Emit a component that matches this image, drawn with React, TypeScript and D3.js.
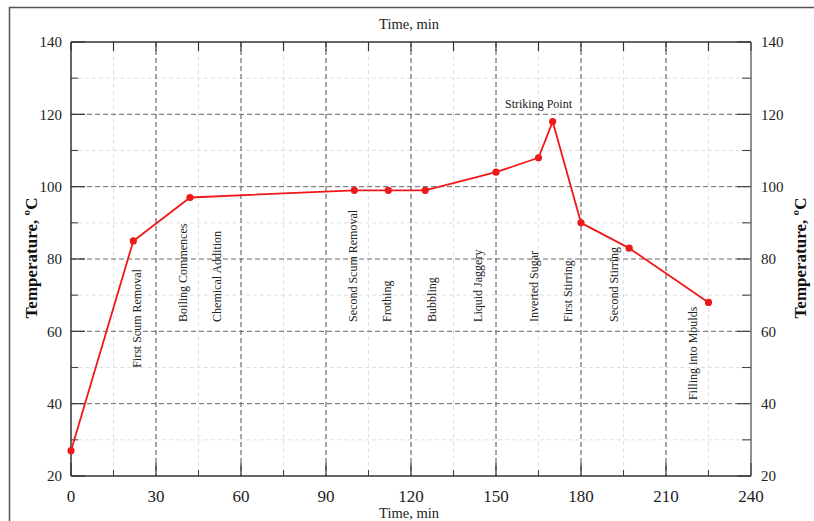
import React from "react";
import * as d3 from "d3";

const timeMin = [0, 22, 42, 100, 112, 125, 150, 165, 170, 180, 197, 225];
const tempC = [27, 85, 97, 99, 99, 99, 104, 108, 118, 90, 83, 68];

const xMajorTicks = [0, 30, 60, 90, 120, 150, 180, 210, 240];
const xMinorTicks = [15, 45, 75, 105, 135, 165, 195, 225];
const yMajorTicks = [20, 40, 60, 80, 100, 120, 140];
const yMinorTicks = [30, 50, 70, 90, 110, 130];

const stageNames = [
  "First Scum Removal",
  "Boiling Commences",
  "Chemical Addition",
  "Second Scum Removal",
  "Frothing",
  "Bubbling",
  "Liquid Jaggery",
  "Inverted Sugar",
  "First Stirring",
  "Second Stirring",
  "Filling into Moulds",
];
const stageX = [23.3, 39.4, 51.4, 99.4, 111.4, 127.3, 143.4, 163.4, 175.5, 191.4, 219.3];
const stageY = [49.9, 62.6, 62.6, 62.6, 62.6, 62.6, 62.6, 62.6, 62.6, 62.6, 41];

const peakLabel = "Striking Point";
const peakLabelX = 165;
const peakLabelY = 122.9;

const xTitle = "Time, min";
const yTitle = "Temperature, ºC";

const W = 814;
const H = 521;
const FONT = "'Liberation Serif', 'Times New Roman', serif";

export default function App() {
  const x = d3.scaleLinear().domain([0, 240]).range([71, 751]);
  const y = d3.scaleLinear().domain([20, 140]).range([476, 42]);
  const line = d3
    .line<number>()
    .x((_, i) => x(timeMin[i]))
    .y((d) => y(d));

  const [x0, x1] = x.range();
  const [y0, y1] = y.range();
  const red = "#f01818";

  return (
    <svg
      width={W}
      height={H}
      style={{ position: "absolute", left: 0, top: 0, background: "#fff" }}
      fontFamily={FONT}
    >
      <rect x={0} y={0} width={W} height={H} fill="#fff" />
      {/* outer frame */}
      <rect x={9.5} y={7.5} width={820} height={540} fill="none" stroke="#555" strokeWidth={1.5} />

      {/* minor grid */}
      {xMinorTicks.map((t) => (
        <line key={"vx" + t} x1={x(t)} x2={x(t)} y1={y1} y2={y0} stroke="#e0e0e0" strokeWidth={1} strokeDasharray="4,3" />
      ))}
      {yMinorTicks.map((t) => (
        <line key={"hy" + t} x1={x0} x2={x1} y1={y(t)} y2={y(t)} stroke="#e0e0e0" strokeWidth={1} strokeDasharray="4,3" />
      ))}
      {/* major grid */}
      {xMajorTicks.slice(1, -1).map((t) => (
        <line key={"VX" + t} x1={x(t)} x2={x(t)} y1={y1} y2={y0} stroke="#4a4a4a" strokeWidth={1} strokeDasharray="5,3" />
      ))}
      {yMajorTicks.slice(1, -1).map((t) => (
        <line key={"HY" + t} x1={x0} x2={x1} y1={y(t)} y2={y(t)} stroke="#666" strokeWidth={1} strokeDasharray="5,3" />
      ))}

      {/* ticks */}
      {[...xMajorTicks, ...xMinorTicks].map((t) => (
        <line key={"tt" + t} x1={x(t)} x2={x(t)} y1={y1} y2={y1 + 9} stroke="#333" strokeWidth={1.2} />
      ))}
      {xMajorTicks.map((t) => (
        <line key={"bt" + t} x1={x(t)} x2={x(t)} y1={y0} y2={y0 - 13} stroke="#333" strokeWidth={1.2} />
      ))}
      {xMinorTicks.map((t) => (
        <line key={"bm" + t} x1={x(t)} x2={x(t)} y1={y0} y2={y0 - 6} stroke="#444" strokeWidth={1.1} />
      ))}
      {yMajorTicks.map((t) => (
        <g key={"yt" + t}>
          <line x1={x0} x2={x0 + 14} y1={y(t)} y2={y(t)} stroke="#333" strokeWidth={1.2} />
          <line x1={x1} x2={x1 - 14} y1={y(t)} y2={y(t)} stroke="#444" strokeWidth={1.2} />
        </g>
      ))}
      {yMinorTicks.map((t) => (
        <g key={"ym" + t}>
          <line x1={x0} x2={x0 + 7} y1={y(t)} y2={y(t)} stroke="#444" strokeWidth={1.1} />
          <line x1={x1} x2={x1 - 9} y1={y(t)} y2={y(t)} stroke="#444" strokeWidth={1.1} />
        </g>
      ))}

      {/* axis lines */}
      <line x1={x0} x2={x1} y1={y1} y2={y1} stroke="#333" strokeWidth={1.3} />
      <line x1={x0} x2={x1} y1={y0} y2={y0} stroke="#333" strokeWidth={1.5} />
      <line x1={x0} x2={x0} y1={y1} y2={y0} stroke="#333" strokeWidth={1.5} />
      <line x1={x1} x2={x1} y1={y1} y2={y0} stroke="#555" strokeWidth={1.3} />

      {/* tick labels */}
      {yMajorTicks.map((t) => (
        <g key={"yl" + t} fontSize={15} fill="#222">
          <text x={x0 - 9} y={y(t)} dy="0.35em" textAnchor="end">{t}</text>
          <text x={x1 + 10} y={y(t)} dy="0.35em" textAnchor="start">{t}</text>
        </g>
      ))}
      {xMajorTicks.map((t) => (
        <text key={"xl" + t} x={x(t)} y={496} dy="0.35em" textAnchor="middle" fontSize={17} fill="#222">
          {t}
        </text>
      ))}

      {/* titles */}
      <text x={409} y={24} dy="0.35em" textAnchor="middle" fontSize={14.5} fill="#222">{xTitle}</text>
      <text x={409} y={513} dy="0.35em" textAnchor="middle" fontSize={14.5} fill="#222">{xTitle}</text>
      <text
        transform={`translate(31,258) rotate(-90)`}
        dy="0.35em"
        textAnchor="middle"
        fontSize={17}
        fontWeight="bold"
        fill="#111"
      >
        {yTitle}
      </text>
      <text
        transform={`translate(800,258) rotate(-90)`}
        dy="0.35em"
        textAnchor="middle"
        fontSize={17}
        fontWeight="bold"
        fill="#111"
      >
        {yTitle}
      </text>

      {/* stage labels */}
      {stageNames.map((s, i) => (
        <text
          key={s}
          transform={`translate(${x(stageX[i])},${y(stageY[i])}) rotate(-90)`}
          dy="0.35em"
          textAnchor="start"
          fontSize={12}
          fill="#222"
        >
          {s}
        </text>
      ))}
      <text x={x(peakLabelX)} y={y(peakLabelY)} dy="0.35em" textAnchor="middle" fontSize={12} fill="#222">
        {peakLabel}
      </text>

      {/* data */}
      <path d={line(tempC) || ""} fill="none" stroke={red} strokeWidth={1.8} strokeLinejoin="round" />
      {tempC.map((v, i) => (
        <circle key={"p" + i} cx={x(timeMin[i])} cy={y(v)} r={3.6} fill={red} />
      ))}
    </svg>
  );
}
